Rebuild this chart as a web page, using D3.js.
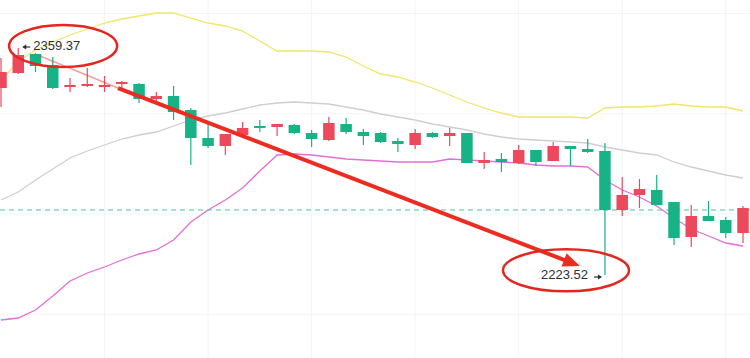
<!DOCTYPE html>
<html><head><meta charset="utf-8">
<script src="https://cdn.jsdelivr.net/npm/d3@7"></script>
<style>html,body{margin:0;padding:0;background:#fff;overflow:hidden}</style>
</head><body><svg id="c" width="750" height="358"></svg>
<script>
// ---- data (prices) ----
const opens  = [2335.43,2344.41,2355.78,2349.20,2336.03,2336.63,2336.03,2337.83,2337.83,2328.85,2330.64,2322.27,2305.51,2300.72,2307.30,2312.69,2312.09,2313.29,2308.50,2304.31,2313.89,2309.10,2308.50,2303.71,2301.32,2308.50,2306.71,2308.50,2290.55,2292.94,2290.55,2298.33,2291.74,2300.72,2298.93,2297.73,2262.42,2271.40,2274.39,2267.21,2246.26,2258.83,2256.43,2248.65];
const highs  = [2353.39,2359.37,2356.38,2353.98,2341.42,2347.40,2342.61,2339.62,2338.40,2333.04,2336.63,2323.46,2315.08,2307.90,2315.08,2316.28,2313.89,2313.89,2310.30,2318.08,2317.48,2310.90,2309.10,2305.51,2310.90,2309.10,2311.49,2308.50,2297.13,2296.53,2301.32,2298.33,2303.12,2300.72,2304.91,2302.52,2282.17,2280.97,2283.37,2267.21,2265.41,2267.81,2258.23,2264.81];
const lows   = [2324.06,2343.81,2345.01,2334.83,2333.04,2336.03,2333.04,2334.24,2326.45,2327.05,2316.28,2289.35,2299.52,2295.34,2305.51,2309.10,2306.71,2307.90,2300.12,2303.71,2307.90,2301.32,2302.52,2297.13,2298.93,2305.51,2300.72,2290.55,2286.96,2285.16,2289.95,2288.75,2291.74,2288.75,2296.53,2223.52,2258.83,2263.62,2265.41,2241.47,2240.28,2255.84,2245.66,2242.67];
const closes = [2345.01,2355.18,2348.60,2335.43,2337.23,2337.83,2337.23,2339.02,2328.85,2330.64,2321.07,2305.51,2300.72,2307.90,2311.49,2311.49,2313.89,2308.50,2304.91,2314.49,2309.10,2306.71,2303.12,2301.92,2308.50,2306.11,2308.50,2290.55,2292.34,2291.15,2298.33,2291.15,2300.72,2298.93,2297.13,2262.42,2271.40,2274.99,2265.41,2245.66,2258.83,2255.84,2248.65,2263.62];
const upperBand  = [2339.62,2351.59,2358.17,2362.96,2367.15,2370.74,2374.33,2376.72,2378.52,2380.32,2380.32,2377.32,2374.33,2372.54,2369.54,2363.56,2357.57,2357.57,2357.57,2356.98,2353.98,2348.60,2343.81,2342.02,2339.02,2335.43,2331.24,2327.05,2323.46,2320.47,2318.08,2318.08,2318.08,2318.08,2317.48,2323.46,2324.06,2324.06,2324.66,2325.86,2324.66,2324.06,2324.06,2321.67];
const middleBand = [2268.40,2273.19,2280.37,2286.96,2293.54,2297.73,2301.32,2304.91,2307.30,2309.10,2312.69,2316.28,2318.67,2320.47,2322.86,2325.26,2326.45,2327.05,2326.45,2325.86,2324.06,2322.27,2319.87,2318.08,2316.28,2313.89,2312.09,2310.30,2307.90,2306.11,2304.91,2304.31,2303.71,2303.12,2302.52,2300.12,2298.33,2296.53,2295.34,2291.15,2288.15,2285.76,2283.37,2281.57];
const lowerBand  = [2196.59,2197.79,2202.57,2210.95,2219.93,2224.72,2228.31,2232.50,2236.09,2238.48,2244.47,2255.24,2262.42,2268.40,2275.59,2285.76,2295.34,2295.93,2295.34,2294.14,2292.94,2292.34,2291.74,2291.15,2291.15,2291.15,2292.94,2292.34,2291.74,2291.15,2290.55,2289.35,2288.75,2288.75,2288.15,2280.37,2274.39,2270.20,2264.81,2257.63,2251.05,2246.86,2242.67,2240.87];
const lastPrice = 2262.42;
const highMark = {index: 1, price: 2359.37, label: "2359.37"};
const lowMark  = {index: 35, price: 2223.52, label: "2223.52"};
const arrowFrom = [2.26, 2354.6];
const arrowFade = [6.78, 2335.4];
const arrowTo   = [33.55, 2228.9];
const ellipseA = [3.6, 2360.6];
const ellipseB = [32.74, 2226.3];
const gridIndices = [6, 12, 18, 24, 30, 36, 42];
const gridPrices = [2380, 2320, 2260, 2200];

// ---- drawing ----
const W = 750, H = 358;
const svg = d3.select("#c");
const x = d3.scaleLinear().domain([0, 43]).range([1, 743]);
const y = d3.scaleLinear().domain([2223.52, 2359.37]).range([275, 48]);
const UP = "#ec4a5c", DOWN = "#17b286";
const n = closes.length;

const g = svg.append("g");
// grid
g.selectAll(".vg").data(gridIndices).join("line")
  .attr("x1", d => x(d)).attr("x2", d => x(d)).attr("y1", 0).attr("y2", H)
  .attr("stroke", "#f3f4f6").attr("stroke-width", 1);
g.selectAll(".hg").data(gridPrices).join("line")
  .attr("x1", 0).attr("x2", W).attr("y1", d => y(d)).attr("y2", d => y(d))
  .attr("stroke", "#f3f4f6").attr("stroke-width", 1);

// bands
const line = arr => d3.line().x((d, i) => x(i)).y(d => y(d))(arr);
g.append("path").attr("d", line(upperBand)).attr("fill", "none").attr("stroke", "#f3e46a").attr("stroke-width", 1.3);
g.append("path").attr("d", line(middleBand)).attr("fill", "none").attr("stroke", "#cfcfd2").attr("stroke-width", 1.3);
g.append("path").attr("d", line(lowerBand)).attr("fill", "none").attr("stroke", "#e36ed8").attr("stroke-width", 1.3);

// last price dashed line
g.append("line").attr("x1", 0).attr("x2", W).attr("y1", y(lastPrice)).attr("y2", y(lastPrice))
  .attr("stroke", "#4fc3a0").attr("stroke-width", 1.2).attr("stroke-dasharray", "5,4");

// candles
const bw = 11.5;
const idx = d3.range(n);
g.selectAll(".wick").data(idx).join("line")
  .attr("x1", i => x(i)).attr("x2", i => x(i))
  .attr("y1", i => y(highs[i])).attr("y2", i => y(lows[i]))
  .attr("stroke", i => closes[i] >= opens[i] ? UP : DOWN).attr("stroke-width", 1.2);
g.selectAll(".body").data(idx).join("rect")
  .attr("x", i => x(i) - bw / 2).attr("width", bw)
  .attr("y", i => y(Math.max(opens[i], closes[i])))
  .attr("height", i => Math.max(1.5, Math.abs(y(opens[i]) - y(closes[i]))))
  .attr("fill", i => closes[i] >= opens[i] ? UP : DOWN);

// trend arrow
const RED = "#ee2b20";
g.append("line").attr("x1", x(arrowFrom[0])).attr("y1", y(arrowFrom[1]))
  .attr("x2", x(arrowFade[0])).attr("y2", y(arrowFade[1]))
  .attr("stroke", RED).attr("stroke-opacity", 0.45).attr("stroke-width", 1.5);
const ax0 = x(arrowFade[0]), ay0 = y(arrowFade[1]), ax1 = x(arrowTo[0]), ay1 = y(arrowTo[1]);
const ang = Math.atan2(ay1 - ay0, ax1 - ax0);
const hl = 17, hw = 7;
const bx = ax1 - hl * Math.cos(ang), by = ay1 - hl * Math.sin(ang);
g.append("line").attr("x1", ax0).attr("y1", ay0).attr("x2", bx + 2 * Math.cos(ang)).attr("y2", by + 2 * Math.sin(ang))
  .attr("stroke", RED).attr("stroke-width", 4);
g.append("path").attr("d", d3.line()([
  [ax1, ay1],
  [bx - hw * Math.sin(ang), by + hw * Math.cos(ang)],
  [bx + hw * Math.sin(ang), by - hw * Math.cos(ang)]
])).attr("fill", RED);

// labels
const TXT = "#2b2f36";
const lab = g.append("g").attr("font-family", "Arial, 'Liberation Sans', sans-serif").attr("fill", TXT);
// small arrow glyphs drawn as paths
function smallArrow(x0, yy, dir) {
  const len = 7, tip = x0 + dir * len;
  g.append("line").attr("x1", x0).attr("x2", tip).attr("y1", yy).attr("y2", yy)
    .attr("stroke", TXT).attr("stroke-width", 1.2);
  g.append("path").attr("d", d3.line()([[tip + dir * 1, yy], [tip - dir * 3, yy - 2.5], [tip - dir * 3, yy + 2.5]]))
    .attr("fill", TXT);
}
const hx = x(highMark.index), hy = y(highMark.price);
smallArrow(hx + 12, hy - 1, -1);
lab.append("text").attr("x", hx + 15).attr("y", hy - 1)
  .attr("dominant-baseline", "middle").attr("font-size", 13).text(highMark.label);
const lx = x(lowMark.index), ly = y(lowMark.price);
smallArrow(lx - 11, ly + 2, 1);
lab.append("text").attr("x", lx - 17).attr("y", ly + 1)
  .attr("dominant-baseline", "middle").attr("text-anchor", "end").attr("font-size", 13).text(lowMark.label);

// ellipses
g.append("ellipse").attr("cx", x(ellipseA[0])).attr("cy", y(ellipseA[1])).attr("rx", 54).attr("ry", 21)
  .attr("fill", "none").attr("stroke", "#e5261f").attr("stroke-width", 2.5);
g.append("ellipse").attr("cx", x(ellipseB[0])).attr("cy", y(ellipseB[1])).attr("rx", 63).attr("ry", 21)
  .attr("fill", "none").attr("stroke", "#e5261f").attr("stroke-width", 2.5);
</script></body></html>
